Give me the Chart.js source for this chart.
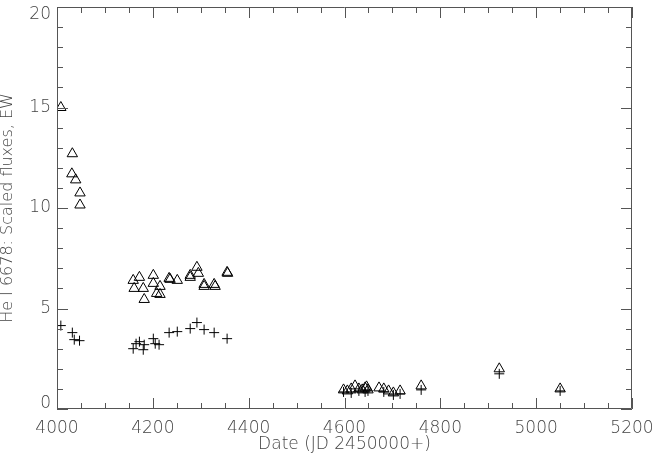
<!DOCTYPE html>
<html>
<head>
<meta charset="utf-8">
<script src="https://cdn.jsdelivr.net/npm/chart.js@4/dist/chart.umd.min.js"></script>
<style>
  html, body { margin: 0; padding: 0; background: #fff; }
  #wrap { width: 653px; height: 461px; }
</style>
</head>
<body>
<div id="wrap"><canvas id="myChart" width="653" height="461"></canvas></div>
<script>
// triangles (upper series)
var triDates = [4008, 4032, 4031, 4039, 4048, 4048,
  4159, 4172, 4161, 4180, 4182, 4201, 4201, 4215, 4208, 4215, 4234, 4236, 4251,
  4278, 4278, 4292, 4295, 4307, 4307, 4328, 4330, 4355, 4356,
  4598, 4606, 4614, 4622, 4630, 4637, 4643, 4646, 4649, 4672, 4682, 4692, 4702, 4716,
  4760, 4923, 5050];
var triValues = [15.0, 12.7, 11.7, 11.4, 10.75, 10.15,
  6.4, 6.55, 6.0, 6.0, 5.45, 6.65, 6.25, 6.1, 5.75, 5.7, 6.5, 6.45, 6.4,
  6.65, 6.55, 7.05, 6.75, 6.2, 6.1, 6.2, 6.1, 6.8, 6.75,
  0.95, 0.9, 1.0, 1.15, 1.0, 0.95, 1.05, 1.1, 0.95, 1.05, 1.0, 0.9, 0.8, 0.9,
  1.15, 2.0, 1.0];

// plus signs (lower series)
var plusDates = [4008, 4032, 4036, 4047,
  4159, 4165, 4172, 4180, 4182, 4201, 4205, 4213, 4234, 4251, 4278, 4292, 4307, 4328, 4355,
  4598, 4614, 4630, 4643, 4649, 4682, 4702, 4716, 4760, 4923, 5050];
var plusValues = [4.15, 3.8, 3.45, 3.4,
  3.0, 3.25, 3.35, 2.95, 3.2, 3.5, 3.25, 3.2, 3.8, 3.85, 4.0, 4.3, 3.95, 3.8, 3.5,
  0.85, 0.8, 0.9, 0.85, 0.9, 0.85, 0.7, 0.75, 0.95, 1.75, 0.9];

var xTicks = [4000, 4200, 4400, 4600, 4800, 5000, 5200];
var yTicks = [0, 5, 10, 15, 20];

function pts(xs, ys) {
  return xs.map(function (x, i) { return { x: x, y: ys[i] }; });
}

var FONT = '"DejaVu Sans", sans-serif';
var TXT = '#444';
var AX = '#555';

// IDL style box with inward ticks on all four sides
var frame = {
  id: 'frame',
  afterDraw: function (chart) {
    var ctx = chart.ctx, a = chart.chartArea;
    var xs = chart.scales.x, ys = chart.scales.y;
    ctx.save();
    ctx.strokeStyle = AX;
    ctx.lineWidth = 1;
    ctx.beginPath();
    ctx.rect(a.left + 0.5, a.top + 0.5, a.right - a.left - 1, a.bottom - a.top - 1);
    var v, p, len;
    for (v = 4000; v <= 5200; v += 50) {
      p = Math.round(xs.getPixelForValue(v)) + 0.5;
      len = (v % 200 === 0) ? 11 : 6;
      ctx.moveTo(p, a.bottom); ctx.lineTo(p, a.bottom - len);
      ctx.moveTo(p, a.top); ctx.lineTo(p, a.top + len);
    }
    for (v = 0; v <= 20; v += 1) {
      p = Math.round(ys.getPixelForValue(v)) + 0.5;
      len = (v % 5 === 0) ? 11 : 6;
      ctx.moveTo(a.left, p); ctx.lineTo(a.left + len, p);
      ctx.moveTo(a.right, p); ctx.lineTo(a.right - len, p);
    }
    ctx.stroke();
    // y tick labels, kept inside the window like the original
    ctx.fillStyle = TXT;
    ctx.font = '200 17px ' + FONT;
    ctx.textAlign = 'right';
    ctx.textBaseline = 'middle';
    yTicks.forEach(function (t) {
      var py = ys.getPixelForValue(t);
      py = Math.min(Math.max(py, a.top + 8), a.bottom - 5);
      ctx.fillText(String(t), 51, py);
    });
    ctx.restore();
  }
};

var options = {
  type: 'scatter',
  data: {
    datasets: [
      {
        label: 'triangles',
        data: pts(triDates, triValues),
        pointStyle: 'triangle',
        pointRadius: 6,
        pointHoverRadius: 6,
        borderWidth: 1,
        borderColor: '#000',
        backgroundColor: 'rgba(0,0,0,0)'
      },
      {
        label: 'plus',
        data: pts(plusDates, plusValues),
        pointStyle: 'cross',
        pointRadius: 5,
        pointHoverRadius: 5,
        borderWidth: 1,
        borderColor: '#000',
        backgroundColor: '#000'
      }
    ]
  },
  options: {
    responsive: false,
    animation: false,
    layout: { padding: { top: 1, right: 21, left: 0, bottom: 0 } },
    plugins: {
      legend: { display: false },
      tooltip: { enabled: false }
    },
    scales: {
      x: {
        type: 'linear',
        min: 4000,
        max: 5200,
        grid: { display: false, drawTicks: false },
        border: { display: false },
        ticks: {
          stepSize: 200,
          padding: 9,
          color: TXT,
          font: { family: FONT, size: 17, weight: '200' },
          maxRotation: 0,
          callback: function (v) { return xTicks.indexOf(v) >= 0 ? String(v) : ''; }
        },
        title: {
          display: true,
          text: 'Date (JD 2450000+)',
          color: TXT,
          font: { family: FONT, size: 17, weight: '200' },
          padding: { top: 0, bottom: 6 }
        },
        afterFit: function (s) { s.height = 52; s.paddingLeft = 0; s.paddingRight = 0; }
      },
      y: {
        min: 0,
        max: 20,
        grid: { display: false, drawTicks: false },
        border: { display: false },
        ticks: { display: false, stepSize: 5 },
        title: {
          display: true,
          text: 'He I 6678: Scaled fluxes, EW',
          color: TXT,
          font: { family: FONT, size: 16, weight: '200', lineHeight: 1 },
          padding: { top: 0, bottom: 0 }
        },
        afterFit: function (s) { s.width = 57; s.paddingTop = 0; s.paddingBottom = 0; }
      }
    }
  },
  plugins: [frame]
};

var ctx = document.getElementById('myChart').getContext('2d');
new Chart(ctx, options);
</script>
</body>
</html>
